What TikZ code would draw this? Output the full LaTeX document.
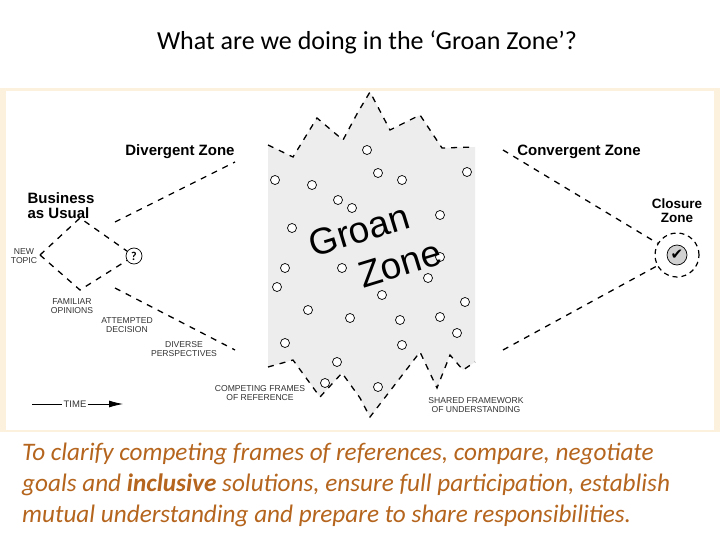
\documentclass[tikz,border=0pt]{standalone}
\usepackage{fontspec}
\setmainfont{Carlito}
\newfontfamily\arial{Liberation Sans}
\newfontfamily\dejavu{DejaVu Sans}
\usetikzlibrary{arrows.meta}
\definecolor{cream}{HTML}{FCF1DC}
\definecolor{groan}{HTML}{EDEDED}
\definecolor{txt}{HTML}{B5651D}
\begin{document}
\begin{tikzpicture}[x=1pt,y=-1pt,
  dsh/.style={line width=1.3pt,dash pattern=on 6pt off 6pt},
  big/.style={font=\arial\bfseries\fontsize{15}{15}\selectfont,align=center},
  small/.style={font=\arial\fontsize{8.6}{8.6}\selectfont,align=center,text=black!80},
  bub/.style={circle,draw,line width=0.7pt,minimum size=9pt,inner sep=0pt,fill=white}]
\useasboundingbox (0,0) rectangle (720,540);
\fill[white] (0,0) rectangle (720,540);
\fill[cream] (0,88) rectangle (720,432);
\fill[white] (6,91) rectangle (714,430);
\node (title) at (367,42) {\fontsize{26}{28}\selectfont What are we doing in the ‘Groan Zone’?};
% groan zone
\fill[groan] (268,145) -- (293,157) -- (317,118) -- (343,140) -- (358,112) -- (370,92) -- (390,130) -- (420,115) -- (442,148) -- (475,147)
  -- (475,362) -- (463,370) -- (450,355) -- (437,388) -- (420,352) -- (370,417) -- (360,398) -- (342,373) -- (320,397) -- (293,360) -- (268,367) -- cycle;
\draw[dsh] (268,145) -- (293,157) -- (317,118) -- (343,140) -- (358,112) -- (370,92) -- (390,130) -- (420,115) -- (442,148) -- (475,147);
\draw[dsh] (268,367) -- (293,360) -- (320,397) -- (342,373) -- (360,398) -- (370,417) -- (420,352) -- (437,388) -- (450,355) -- (463,370) -- (475,362);
\foreach \p in {(275,180),(312,185),(338,200),(352,208),(292,228),(342,268),(285,268),(277,287),(308,310),(350,318),(285,343),(337,362),
 (367,150),(378,173),(402,180),(467,172),(440,215),(440,257),(428,278),(382,295),(465,302),(400,320),(440,317),(457,333),(402,345),(378,387),(325,383)}
  \node[bub] at \p {};
\node[font=\arial\fontsize{37}{37}\selectfont,rotate=17] (g) at (359,230) {Groan};
\node[font=\arial\fontsize{37}{37}\selectfont,rotate=17] (z) at (400,264) {Zone};
% left
\coordinate (nt) at (40,255);
\coordinate (top) at (80,218);
\coordinate (bot) at (80,290);
\node[circle,draw,line width=0.7pt,minimum size=16pt,inner sep=0pt,font=\bfseries\large] (q) at (134,256) {?};
\draw[dsh] (nt) -- (top) -- (q);
\draw[dsh] (nt) -- (bot) -- (q);
\coordinate (d1) at (115,222); \coordinate (d2) at (235,162);
\coordinate (d3) at (115,288); \coordinate (d4) at (235,350);
\draw[dsh] (d1) -- (d2);
\draw[dsh] (d3) -- (d4);
\node[big] (dz) at (180,152) {Divergent Zone};
\node[big,align=left] (bu) at (61,206) {Business\\as Usual};
\node[small] (ntl) at (24,256) {NEW\\TOPIC};
\node[small] (fo) at (72,306) {FAMILIAR\\OPINIONS};
\node[small] (ad) at (127,325) {ATTEMPTED\\DECISION};
\node[small] (dp) at (184,349) {DIVERSE\\PERSPECTIVES};
\node[small] (cf) at (260,393) {COMPETING FRAMES\\OF REFERENCE};
\node[small] (sf) at (476,405) {SHARED FRAMEWORK\\OF UNDERSTANDING};
% right
\node[big] (cz) at (579,152) {Convergent Zone};
\node[big,font=\arial\bfseries\fontsize{13.5}{14}\selectfont] (clz) at (677,211) {Closure\\Zone};
\node[circle,draw,line width=1.2pt,dash pattern=on 5pt off 4pt,minimum size=44pt] (cl) at (677,255) {};
\node[circle,draw,fill=black!18,line width=0.7pt,minimum size=20pt,inner sep=0pt,font=\dejavu\bfseries\fontsize{15}{15}\selectfont] (ck) at (677,255) {✔};
\coordinate (c1) at (503,150); \coordinate (c2) at (503,350);
\draw[dsh] (c1) -- (cl);
\draw[dsh] (c2) -- (cl);
% time
\node[small,font=\arial\fontsize{9.5}{9.5}\selectfont,inner sep=1pt] (time) at (75,404) {TIME};
\coordinate (t0) at (32,404); \coordinate (t1) at (123,404);
\draw[line width=0.8pt] (t0) -- (time);
\draw[line width=0.8pt,-{Latex[length=14pt,width=7pt]}] (time) -- (t1);
% bottom text
\node[anchor=north west,align=left,text=txt,font=\itshape\fontsize{25.2}{31}\selectfont,inner sep=0pt] (body) at (22,443)
 {To clarify competing frames of references, compare, negotiate\\goals and \textbf{inclusive} solutions, ensure full participation, establish\\mutual understanding and prepare to share responsibilities.};
\end{tikzpicture}
\end{document}
